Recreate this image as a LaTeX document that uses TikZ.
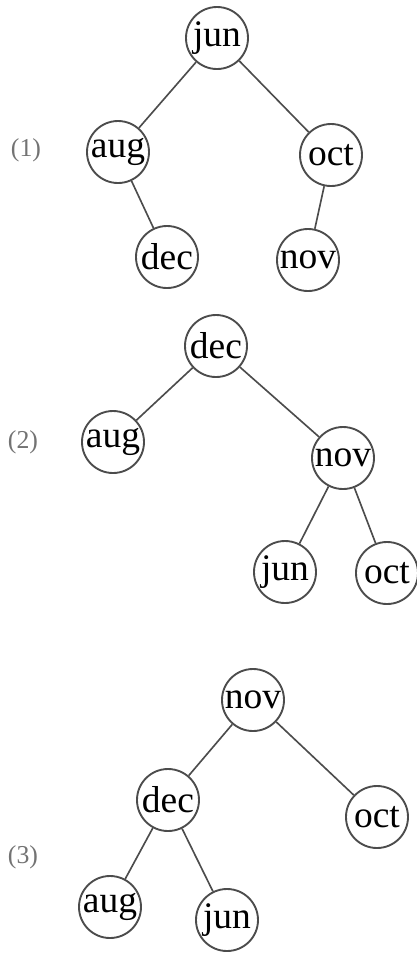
\documentclass[tikz,border=0pt]{standalone}
\usepackage{fontspec}
\setmainfont{Liberation Serif}

\begin{document}
\begin{tikzpicture}[x=0.015cm, y=-0.015cm,
        month/.style={draw=black!70, line width=0.8pt, circle, minimum size=0.93cm, inner sep=0pt, font=\fontsize{16}{19}\selectfont},
        edge/.style={draw=black!70, line width=0.7pt},
        treelabel/.style={text=black!55, font=\fontsize{11}{13}\selectfont}]
        \useasboundingbox (0,0) rectangle (417,953);

        % Tree (1)
        \node[treelabel] (l1) at (26, 150) {(1)};
        \node[month] (a1) at (217, 38) {jun};
        \node[month] (a2) at (118, 152) {aug};
        \node[month] (a3) at (331, 155) {oct};
        \node[month] (a4) at (167, 257) {dec};
        \node[month] (a5) at (308, 260) {nov};
        \draw[edge] (a1) -- (a2);
        \draw[edge] (a1) -- (a3);
        \draw[edge] (a2) -- (a4);
        \draw[edge] (a3) -- (a5);

        % Tree (2)
        \node[treelabel] (l2) at (23, 442) {(2)};
        \node[month] (b1) at (216, 346) {dec};
        \node[month] (b2) at (113, 442) {aug};
        \node[month] (b3) at (343, 458) {nov};
        \node[month] (b4) at (285, 572) {jun};
        \node[month] (b5) at (387, 573) {oct};
        \draw[edge] (b1) -- (b2);
        \draw[edge] (b1) -- (b3);
        \draw[edge] (b3) -- (b4);
        \draw[edge] (b3) -- (b5);

        % Tree (3)
        \node[treelabel] (l3) at (23, 857) {(3)};
        \node[month] (c1) at (253, 700) {nov};
        \node[month] (c2) at (168, 800) {dec};
        \node[month] (c3) at (377, 817) {oct};
        \node[month] (c4) at (110, 907) {aug};
        \node[month] (c5) at (227, 920) {jun};
        \draw[edge] (c1) -- (c2);
        \draw[edge] (c1) -- (c3);
        \draw[edge] (c2) -- (c4);
        \draw[edge] (c2) -- (c5);

    \end{tikzpicture}
\end{document}
